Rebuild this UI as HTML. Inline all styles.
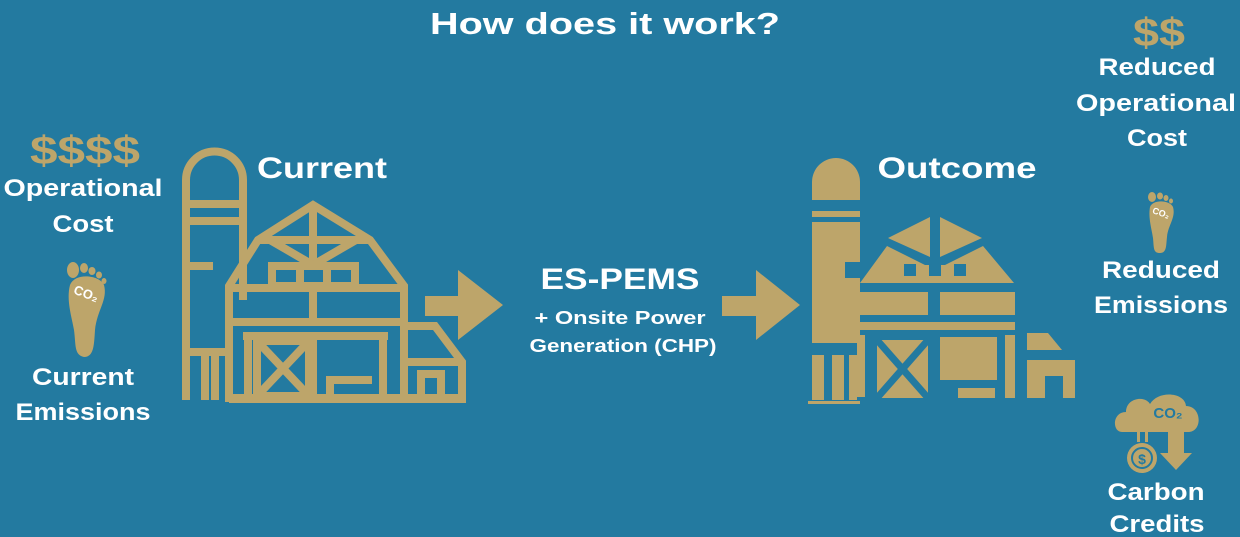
<!DOCTYPE html>
<html><head><meta charset="utf-8"><style>
html,body{margin:0;padding:0;background:#237aa0;}
svg{display:block}
text{font-family:"Liberation Sans",sans-serif;font-weight:bold;}
</style></head><body>
<svg width="1240" height="537" viewBox="0 0 1240 537" xmlns="http://www.w3.org/2000/svg">
<rect width="1240" height="537" fill="#237aa0"/>
<g fill="#fff" text-anchor="middle" lengthAdjust="spacingAndGlyphs">
<text x="605" y="34" font-size="31" textLength="350" lengthAdjust="spacingAndGlyphs">How does it work?</text>
<text x="322" y="178" font-size="30" textLength="130" lengthAdjust="spacingAndGlyphs">Current</text>
<text x="957" y="178" font-size="30" textLength="159" lengthAdjust="spacingAndGlyphs">Outcome</text>
<text x="83" y="196" font-size="24" textLength="159" lengthAdjust="spacingAndGlyphs">Operational</text>
<text x="83" y="232" font-size="24" textLength="61" lengthAdjust="spacingAndGlyphs">Cost</text>
<text x="83" y="385" font-size="24" textLength="102" lengthAdjust="spacingAndGlyphs">Current</text>
<text x="83" y="420" font-size="24" textLength="135" lengthAdjust="spacingAndGlyphs">Emissions</text>
<text x="620" y="289" font-size="30" textLength="159" lengthAdjust="spacingAndGlyphs">ES-PEMS</text>
<text x="620" y="324" font-size="18" textLength="171" lengthAdjust="spacingAndGlyphs">+ Onsite Power</text>
<text x="623" y="352" font-size="18" textLength="187" lengthAdjust="spacingAndGlyphs">Generation (CHP)</text>
<text x="1157" y="75" font-size="24" textLength="117" lengthAdjust="spacingAndGlyphs">Reduced</text>
<text x="1156" y="111" font-size="24" textLength="160" lengthAdjust="spacingAndGlyphs">Operational</text>
<text x="1157" y="146" font-size="24" textLength="60" lengthAdjust="spacingAndGlyphs">Cost</text>
<text x="1161" y="278" font-size="24" textLength="118" lengthAdjust="spacingAndGlyphs">Reduced</text>
<text x="1161" y="313" font-size="24" textLength="134" lengthAdjust="spacingAndGlyphs">Emissions</text>
<text x="1156" y="500" font-size="24" textLength="97" lengthAdjust="spacingAndGlyphs">Carbon</text>
<text x="1157" y="532" font-size="24" textLength="95" lengthAdjust="spacingAndGlyphs">Credits</text>
</g>
<g fill="#bda56a" text-anchor="middle">
<text x="85" y="164" font-size="40" textLength="110" lengthAdjust="spacingAndGlyphs">$$$$</text>
<text x="1159" y="46" font-size="40" textLength="52" lengthAdjust="spacingAndGlyphs">$$</text>
</g>
<!-- arrows -->
<g fill="#bda56a">
<polygon points="425,296 458,296 458,270 503,305 458,340 458,316 425,316"/>
<polygon points="722,296 756,296 756,270 800,305 756,340 756,316 722,316"/>
</g>
<!-- footprints -->
<g fill="#bda56a">
<path d="M70,285 C66,300 72,318 74,330 C76,345 74,355 84,357 C94,357 94,345 95,330 C97,310 108,300 104,285 C100,275 75,272 70,285Z"/>
<ellipse cx="73" cy="270" rx="6" ry="8"/><ellipse cx="84" cy="268" rx="4" ry="5"/><ellipse cx="92" cy="271" rx="3.5" ry="4"/><ellipse cx="99" cy="275" rx="3" ry="3.5"/><ellipse cx="104" cy="281" rx="2.5" ry="3"/>
<path d="M1150,207 C1148,218 1152,230 1153,238 C1154,248 1153,253 1160,253 C1167,253 1166,245 1167,237 C1168,225 1176,218 1173,207 C1170,200 1153,199 1150,207Z"/>
<ellipse cx="1152" cy="197" rx="4" ry="5"/><ellipse cx="1160" cy="196" rx="3" ry="3.5"/><ellipse cx="1166" cy="198" rx="2.5" ry="3"/><ellipse cx="1171" cy="201" rx="2" ry="2.5"/>
</g>
<text x="86" y="298" font-size="13" fill="#fff" text-anchor="middle" transform="rotate(20 86 294)">CO₂</text>
<text x="1161" y="216" font-size="9" fill="#fff" text-anchor="middle" transform="rotate(20 1161 213)">CO₂</text>
<!-- carbon credit icon -->
<g fill="#bda56a">
<path d="M1122,432 C1112,432 1112,412 1126,412 C1126,398 1145,395 1150,404 C1158,390 1185,392 1186,406 C1202,406 1203,432 1188,432 Z"/>
<rect x="1168" y="430" width="16" height="25"/>
<polygon points="1160,453 1192,453 1176,470"/>
<rect x="1137" y="432" width="3" height="10"/><rect x="1145" y="432" width="3" height="10"/>
<circle cx="1142" cy="458" r="15"/>
</g>
<circle cx="1142" cy="458" r="10" fill="none" stroke="#237aa0" stroke-width="2"/>
<text x="1142" y="464" font-size="14" fill="#237aa0" text-anchor="middle">$</text>
<text x="1168" y="418" font-size="15" fill="#237aa0" text-anchor="middle">CO₂</text>
<!-- current barn (outline) -->
<g fill="none" stroke="#bda56a" stroke-width="8" stroke-linejoin="miter">
<path d="M186,400 V180 A28,28 0 0 1 243,180 V300"/>
<line x1="186" y1="204" x2="243" y2="204"/>
<line x1="186" y1="221" x2="243" y2="221"/>
<line x1="186" y1="266" x2="213" y2="266"/>
<line x1="186" y1="352" x2="230" y2="352"/>
<line x1="205" y1="352" x2="205" y2="400"/>
<line x1="215" y1="352" x2="215" y2="400"/>
<path d="M229,398 V286 L258,240 L313,205 L370,240 L404,286 V398 Z"/>
<line x1="258" y1="240" x2="370" y2="240"/>
<line x1="313" y1="205" x2="313" y2="265"/>
<line x1="270" y1="240" x2="313" y2="265"/>
<line x1="356" y1="240" x2="313" y2="265"/>
<rect x="272" y="266" width="83" height="20"/>
<line x1="300" y1="266" x2="300" y2="286"/><line x1="327" y1="266" x2="327" y2="286"/>
<line x1="229" y1="288" x2="404" y2="288"/>
<line x1="229" y1="322" x2="404" y2="322"/>
<line x1="313" y1="288" x2="313" y2="322"/>
<line x1="243" y1="336" x2="388" y2="336"/>
<line x1="248" y1="336" x2="248" y2="398"/>
<line x1="383" y1="336" x2="383" y2="398"/>
<rect x="257" y="341" width="52" height="55"/>
<line x1="257" y1="341" x2="309" y2="396"/><line x1="309" y1="341" x2="257" y2="396"/>
<line x1="313" y1="336" x2="313" y2="398"/>
<path d="M330,398 V380 H372"/>
<path d="M404,326 H435 L462,362 V398 H404"/>
<line x1="404" y1="362" x2="462" y2="362"/>
<path d="M421,398 V374 H441 V398"/>
<line x1="229" y1="399" x2="466" y2="399"/>
</g>
<!-- outcome barn (filled) -->
<g fill="#bda56a">
<path d="M812,200 V182 A24,24 0 0 1 860,182 V200 Z"/>
<rect x="812" y="211" width="48" height="6"/>
<path d="M812,222 H860 V262 H845 V278 H860 V343 H812 Z"/>
<rect x="812" y="355" width="12" height="45"/>
<rect x="832" y="355" width="12" height="45"/>
<rect x="849" y="355" width="8" height="45"/>
<rect x="808" y="401" width="52" height="3"/>
<polygon points="888,238 930,217 930,257"/>
<polygon points="940,217 982,238 940,257"/>
<path d="M860,283 L887,246 L925,265 H945 L983,246 L1014,283 Z"/>
<rect x="857" y="292" width="71" height="23"/>
<rect x="940" y="292" width="75" height="23"/>
<rect x="857" y="322" width="158" height="8"/>
<rect x="857" y="335" width="8" height="62"/>
<polygon points="877,340 928,340 928,398 877,398"/>
<rect x="940" y="337" width="57" height="43"/>
<rect x="958" y="388" width="37" height="10"/>
<rect x="1005" y="335" width="10" height="63"/>
<polygon points="1027,333 1048,333 1062,350 1027,350"/>
<path d="M1027,360 H1075 V398 H1063 V376 H1045 V398 H1027 Z"/>
</g>
<g stroke="#237aa0" stroke-width="7">
<line x1="877" y1="340" x2="928" y2="398"/><line x1="928" y1="340" x2="877" y2="398"/>
</g>
<g fill="#237aa0">
<rect x="904" y="264" width="12" height="12"/><rect x="929" y="264" width="12" height="12"/><rect x="954" y="264" width="12" height="12"/>
</g>
</svg>
</body></html>
